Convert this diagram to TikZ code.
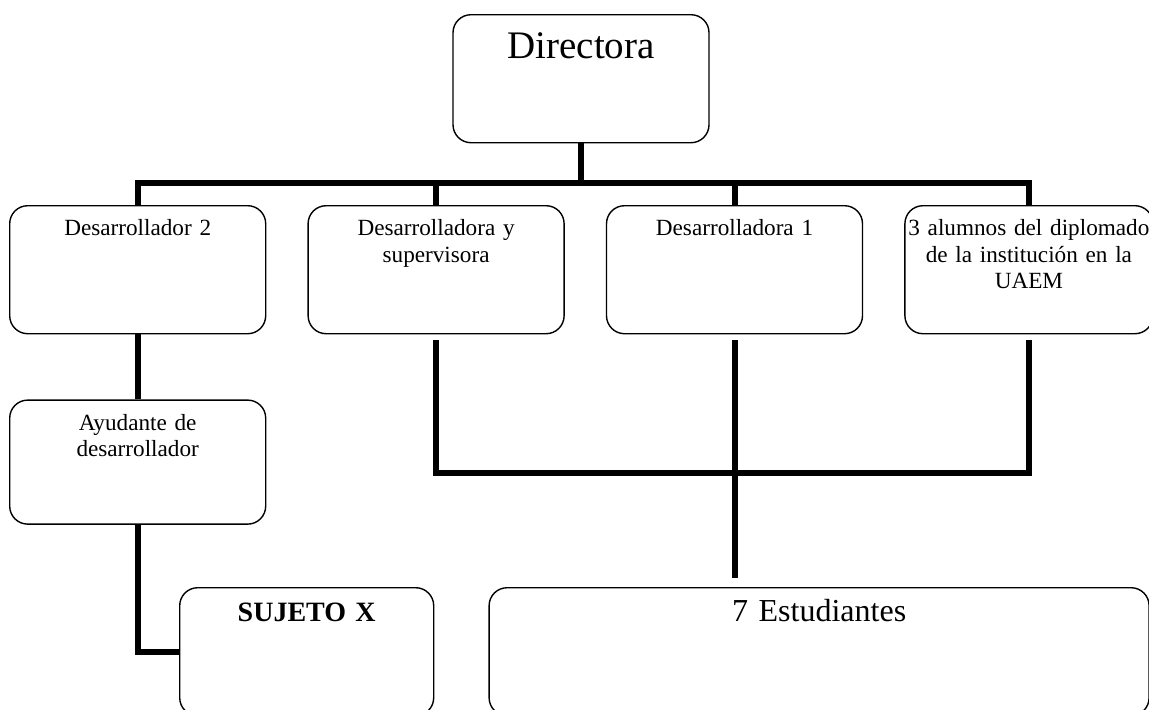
\documentclass[tikz,border=0pt]{standalone}
\usepackage{fontspec}
\setmainfont{Liberation Serif}
\usetikzlibrary{positioning}

\begin{document}
\begin{tikzpicture}[
        x=0.5pt, y=-0.5pt,
        caja/.style={draw, line width=0.7pt, rounded corners=9pt, inner xsep=1pt, inner ysep=0pt, align=center, font=\fontsize{11.6}{13.3}\selectfont, text height=15pt},
        fila/.style={caja, text width=126pt, text depth=49pt},
        jefa/.style={caja, text width=126pt, text height=22pt, text depth=42pt, font=\fontsize{19.5}{22}\selectfont},
        grande/.style={caja, text height=17pt, text depth=47pt},
        barra/.style={line width=3pt},
        node distance=20.5pt
    ]
    \clip (0,0) rectangle (1149,709);

    \node[jefa, anchor=north] (dir) at (581,14) {Directora};

    \node[fila, anchor=north west] (d2) at (9,205) {Desarrollador 2};
    \node[fila]                    (ds) [right=of d2] {Desarrolladora y\\supervisora};
    \node[fila]                    (d1) [right=of ds] {Desarrolladora 1};
    \node[fila, text width=122pt]  (al) [right=of d1] {3 alumnos del diplomado\\de la institución en la\\UAEM};

    \node[fila, text depth=47pt]   (ayu) [below=32.5pt of d2] {Ayudante de\\desarrollador};

    \node[grande, text width=125pt, font=\fontsize{14}{16}\selectfont\bfseries, anchor=north west] (suj) at (179,587) {SUJETO X};
    \node[grande, text width=328pt, font=\fontsize{16}{18}\selectfont] (est) [right=27pt of suj] {7 Estudiantes};

    % lineas de mando
    \coordinate (bus) at (0,183);
    \draw[barra] (dir.south) -- (dir.south |- bus);
    \draw[barra] (d2.north) -- (d2.north |- bus) -| (al.north);
    \draw[barra] (ds.north) -- (ds.north |- bus);
    \draw[barra] (d1.north) -- (d1.north |- bus);

    \draw[barra] (d2) -- (ayu);
    \draw[barra] (ayu.south) |- (suj.west);

    \draw[barra] ([yshift=-3pt]ds.south) -- ++(0,133) -| ([yshift=-3pt]al.south);
    \draw[barra] ([yshift=-3pt]d1.south) -- ([yshift=4.5pt]d1.south |- est.north);
\end{tikzpicture}
\end{document}
